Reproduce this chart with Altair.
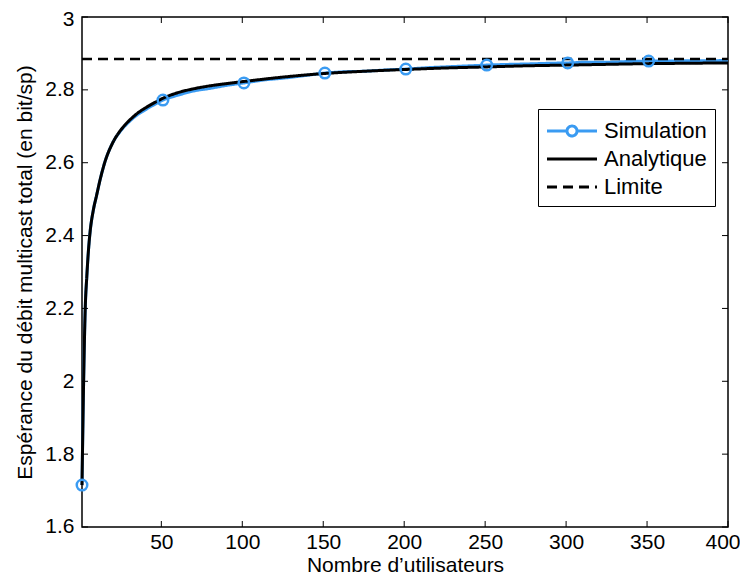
import altair as alt
import pandas as pd

# Analytic curve
x_an = [1, 2, 3, 4, 5, 6, 8, 10, 12, 15, 20, 25, 30, 35, 40, 45, 51, 60, 70, 80, 90,
        101, 125, 151, 175, 201, 225, 251, 275, 301, 325, 351, 375, 400]
y_an = [1.715, 2.00, 2.20, 2.29, 2.36, 2.41, 2.47, 2.51, 2.55, 2.60, 2.655, 2.69, 2.715,
        2.735, 2.750, 2.763, 2.777, 2.792, 2.803, 2.811, 2.817, 2.823, 2.835, 2.845,
        2.851, 2.856, 2.860, 2.863, 2.866, 2.868, 2.870, 2.872, 2.873, 2.874]

# Simulation curve
x_sim = [1, 2, 3, 4, 5, 6, 8, 10, 12, 15, 20, 25, 30, 35, 40, 45, 51, 60, 70, 80, 90, 101,
         115, 125, 140, 151, 165, 175, 190, 201, 215, 225, 240, 251, 265, 275, 290, 301,
         315, 325, 340, 351, 365, 375, 390, 400]
y_sim = [1.715, 2.00, 2.20, 2.29, 2.36, 2.41, 2.47, 2.51, 2.55, 2.60, 2.655, 2.688, 2.712,
         2.731, 2.745, 2.758, 2.772, 2.785, 2.797, 2.804, 2.812, 2.819, 2.828, 2.832, 2.840,
         2.846, 2.850, 2.851, 2.855, 2.857, 2.861, 2.863, 2.866, 2.868, 2.870, 2.871, 2.873,
         2.874, 2.876, 2.876, 2.878, 2.879, 2.879, 2.880, 2.880, 2.881]

# Simulation markers
x_mk = [1, 51, 101, 151, 201, 251, 301, 351]
y_mk = [1.715, 2.772, 2.819, 2.846, 2.857, 2.868, 2.874, 2.879]

# Limit
x_lim = [1, 400]
y_lim = [2.885, 2.885]

series = ["Simulation", "Analytique", "Limite"]
x_ticks = [50, 100, 150, 200, 250, 300, 350, 400]
y_ticks = [1.6, 1.8, 2.0, 2.2, 2.4, 2.6, 2.8, 3.0]

W, H = 646, 510
BLUE = "#3A9BF2"
FONT = "Liberation Sans"

df_an = pd.DataFrame({"x": x_an, "y": y_an, "s": "Analytique"})
df_sim = pd.DataFrame({"x": x_sim, "y": y_sim, "s": "Simulation"})
df_mk = pd.DataFrame({"x": x_mk, "y": y_mk})
df_lim = pd.DataFrame({"x": x_lim, "y": y_lim, "s": "Limite"})
df_leg = pd.DataFrame({"x": [x_an[-1]] * 3, "y": [y_an[-1]] * 3, "s": series})
df_xt = pd.DataFrame({"x": x_ticks})
df_yt = pd.DataFrame({"y": y_ticks})

xscale = alt.Scale(domain=[1, 400], nice=False, zero=False)
yscale = alt.Scale(domain=[1.6, 3.0], nice=False, zero=False)

# legend symbol paths (unit = half of sqrt(symbolSize))
sim_path = "M-2,0L-0.4,0M0.4,0L2,0M0.4,0A0.4,0.4,0,1,1,-0.4,0A0.4,0.4,0,1,1,0.4,0"
line_path = "M-2,0L2,0"
legend = alt.Legend(
    title=None, orient="none", legendX=456, legendY=92,
    symbolSize=625, symbolStrokeWidth=3, symbolOpacity=1,
    symbolFillColor="transparent", symbolOffset=12,
    labelFont=FONT, labelFontSize=22, labelColor="black",
    strokeColor="black", fillColor="white", padding=8, rowPadding=3,
    labelOffset=18,
)

color = alt.Color("s:N", scale=alt.Scale(domain=series, range=[BLUE, "black", "black"]),
                  legend=legend)
dash = alt.StrokeDash("s:N", scale=alt.Scale(domain=series, range=[[1, 0], [1, 0], [10, 6]]),
                      legend=legend)
shape = alt.Shape("s:N", scale=alt.Scale(domain=series, range=[sim_path, line_path, line_path]),
                  legend=legend)

xenc = alt.X("x:Q", scale=xscale, title="Nombre d\u2019utilisateurs",
             axis=alt.Axis(values=x_ticks, tickSize=0, labelPadding=4, grid=False,
                           domain=False, format="d", labelFlush=1, labelFlushOffset=12))
yenc = alt.Y("y:Q", scale=yscale, title="Esp\u00e9rance du d\u00e9bit multicast total (en bit/sp)",
             axis=alt.Axis(values=y_ticks, tickSize=0, labelPadding=8, grid=False,
                           domain=False, labelExpr="format(datum.value, '.2~f')",
                           labelFlush=1, labelFlushOffset=9))

leg_layer = alt.Chart(df_leg).mark_point(filled=False, opacity=0, strokeWidth=3).encode(
    x=xenc, y=yenc, color=color, strokeDash=dash, shape=shape)
sim_line = alt.Chart(df_sim).mark_line(strokeWidth=3, interpolate="monotone").encode(
    x="x:Q", y="y:Q", color=color, strokeDash=dash)
an_line = alt.Chart(df_an).mark_line(strokeWidth=3, interpolate="monotone").encode(
    x="x:Q", y="y:Q", color=color, strokeDash=dash)
lim_line = alt.Chart(df_lim).mark_line(strokeWidth=2.5).encode(
    x="x:Q", y="y:Q", color=color, strokeDash=dash)
markers = alt.Chart(df_mk).mark_point(shape="circle", size=110, filled=False,
                                      strokeWidth=2.5, color=BLUE, opacity=1).encode(
    x="x:Q", y="y:Q")

tk = dict(color="black", strokeWidth=1)
xt_bot = alt.Chart(df_xt).mark_rule(**tk).encode(x="x:Q", y=alt.value(H), y2=alt.value(H - 6))
xt_top = alt.Chart(df_xt).mark_rule(**tk).encode(x="x:Q", y=alt.value(0), y2=alt.value(6))
yt_l = alt.Chart(df_yt).mark_rule(**tk).encode(y="y:Q", x=alt.value(0), x2=alt.value(6))
yt_r = alt.Chart(df_yt).mark_rule(**tk).encode(y="y:Q", x=alt.value(W), x2=alt.value(W - 6))

chart = alt.layer(leg_layer, sim_line, an_line, lim_line, markers,
                  xt_bot, xt_top, yt_l, yt_r).properties(
    width=W, height=H,
    autosize=alt.AutoSizeParams(type="none"),
    padding={"left": 74, "top": 9, "right": 12, "bottom": 48},
).configure_view(stroke="black", strokeWidth=1.5).configure_axis(
    labelFont=FONT, labelFontSize=21, labelColor="black",
    titleFont=FONT, titleColor="black", titleFontWeight="normal",
).configure_axisX(titlePadding=2, titleFontSize=21).configure_axisY(
    titlePadding=9, titleFontSize=21)

chart.save("out.html", embed_options={"renderer": "svg", "actions": False})
